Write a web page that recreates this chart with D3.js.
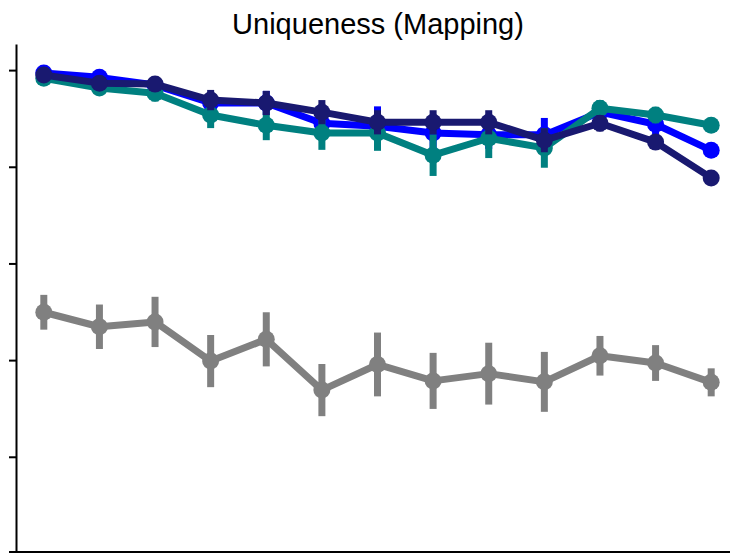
<!DOCTYPE html>
<html>
<head>
<meta charset="utf-8">
<script src="https://cdn.jsdelivr.net/npm/d3@7"></script>
<style>
  body { margin: 0; background: #fff; }
  svg { display: block; }
</style>
</head>
<body>
<div id="chart"></div>
<script>
const width = 730,
    height = 553;

// 13 conditions along x (no labels shown in the figure)
const categories = ["1", "2", "3", "4", "5", "6", "7", "8", "9", "10", "11", "12", "13"];

// y ticks are drawn without labels
const yTicks = [0.2, 0.4, 0.6, 0.8, 1.0];

const grayMean = [0.499, 0.469, 0.479, 0.398, 0.443, 0.338, 0.391, 0.357, 0.372, 0.355, 0.409, 0.394, 0.354];
const grayErr  = [0.036, 0.046, 0.052, 0.054, 0.056, 0.054, 0.066, 0.058, 0.064, 0.062, 0.041, 0.037, 0.029];

const blueMean = [0.994, 0.985, 0.969, 0.932, 0.932, 0.890, 0.884, 0.870, 0.866, 0.866, 0.913, 0.888, 0.834];
const blueErr  = [0.006, 0.008, 0.010, 0.021, 0.025, 0.029, 0.041, 0.031, 0.029, 0.035, 0.017, 0.021, 0.008];

const tealMean = [0.983, 0.963, 0.952, 0.907, 0.886, 0.870, 0.870, 0.824, 0.859, 0.839, 0.921, 0.907, 0.886];
const tealErr  = [0.006, 0.008, 0.017, 0.027, 0.031, 0.035, 0.037, 0.043, 0.041, 0.041, 0.017, 0.017, 0.006];

const navyMean = [0.990, 0.973, 0.971, 0.938, 0.932, 0.913, 0.892, 0.892, 0.892, 0.855, 0.890, 0.851, 0.777];
const navyErr  = [0.006, 0.008, 0.010, 0.021, 0.025, 0.025, 0.025, 0.025, 0.025, 0.025, 0.017, 0.012, 0.012];

// drawing order: gray first, navy on top
const series = [
    {name: "gray", color: "#808080", mean: grayMean, err: grayErr},
    {name: "blue", color: "#0000ff", mean: blueMean, err: blueErr},
    {name: "teal", color: "#008080", mean: tealMean, err: tealErr},
    {name: "navy", color: "#191970", mean: navyMean, err: navyErr}
];

const svg = d3.select("#chart")
    .append("svg")
    .attr("width", width)
    .attr("height", height);

const x = d3.scalePoint()
    .domain(categories)
    .range([16, 739])
    .padding(0.5);

const y = d3.scaleLinear()
    .domain([0.003, 1.054])
    .range([552, 44]);

// title
svg.append("text")
    .attr("x", 378)
    .attr("y", 34)
    .attr("text-anchor", "middle")
    .style("font-family", "'Liberation Sans', Arial, sans-serif")
    .style("font-size", "29px")
    .style("fill", "#000")
    .text("Uniqueness (Mapping)");

// left axis, ticks without labels
const yAxis = svg.append("g")
    .attr("transform", "translate(16,0)")
    .call(d3.axisLeft(y).tickValues(yTicks).tickSize(7).tickSizeOuter(0).tickFormat(""));
yAxis.select(".domain").attr("stroke-width", 2);
yAxis.selectAll(".tick line").attr("stroke-width", 2);

// bottom axis, no ticks
const xAxis = svg.append("g")
    .attr("transform", "translate(0,552)")
    .call(d3.axisBottom(x).tickSize(0).tickFormat(""));
xAxis.select(".domain")
    .attr("d", "M9,0H739")
    .attr("stroke-width", 2);

const line = d3.line()
    .x((d, i) => x(categories[i]))
    .y(d => y(d));

series.forEach(s => {
    const g = svg.append("g").attr("class", "series-" + s.name);

    // error bars
    g.selectAll("line.err")
        .data(s.mean)
        .enter().append("line")
        .attr("class", "err")
        .attr("x1", (d, i) => x(categories[i]))
        .attr("x2", (d, i) => x(categories[i]))
        .attr("y1", (d, i) => y(d - s.err[i]))
        .attr("y2", (d, i) => y(d + s.err[i]))
        .style("stroke", s.color)
        .style("stroke-width", 7);

    g.append("path")
        .datum(s.mean)
        .attr("d", line)
        .style("fill", "none")
        .style("stroke", s.color)
        .style("stroke-width", 7)
        .style("stroke-linejoin", "round");

    g.selectAll("circle")
        .data(s.mean)
        .enter().append("circle")
        .attr("cx", (d, i) => x(categories[i]))
        .attr("cy", d => y(d))
        .attr("r", 8.5)
        .style("fill", s.color);
});
</script>
</body>
</html>
